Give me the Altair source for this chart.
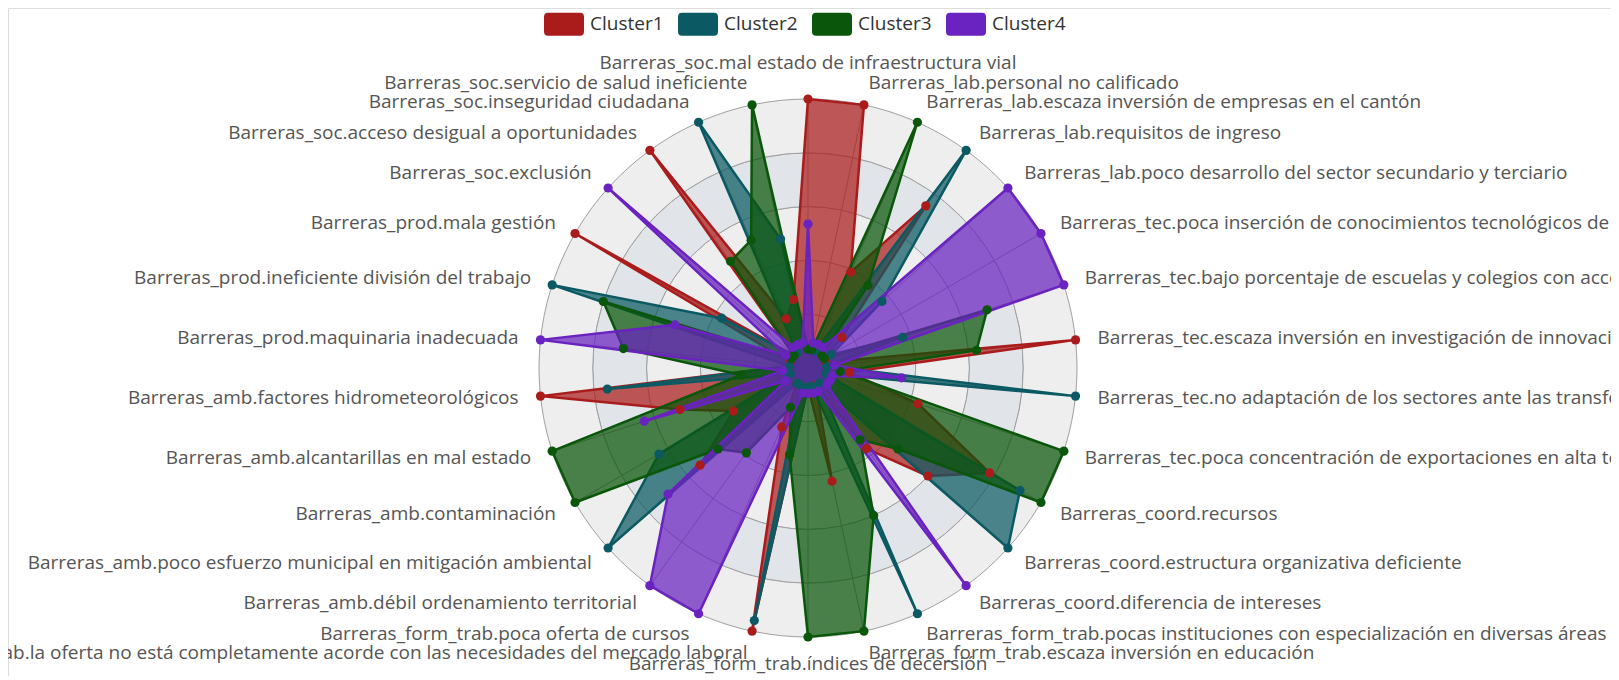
import altair as alt
import pandas as pd

# ---------------- data ----------------
axis_names = [
    "Barreras_soc.mal estado de infraestructura vial",
    "Barreras_lab.personal no calificado",
    "Barreras_lab.escaza inversión de empresas en el cantón",
    "Barreras_lab.requisitos de ingreso",
    "Barreras_lab.poco desarrollo del sector secundario y terciario",
    "Barreras_tec.poca inserción de conocimientos tecnológicos de las empresas",
    "Barreras_tec.bajo porcentaje de escuelas y colegios con acceso a internet",
    "Barreras_tec.escaza inversión en investigación de innovación",
    "Barreras_tec.no adaptación de los sectores ante las transformaciones tecnológicas",
    "Barreras_tec.poca concentración de exportaciones en alta tecnología",
    "Barreras_coord.recursos",
    "Barreras_coord.estructura organizativa deficiente",
    "Barreras_coord.diferencia de intereses",
    "Barreras_form_trab.pocas instituciones con especialización en diversas áreas",
    "Barreras_form_trab.escaza inversión en educación",
    "Barreras_form_trab.índices de decersión",
    "Barreras_form_trab.la oferta no está completamente acorde con las necesidades del mercado laboral",
    "Barreras_form_trab.poca oferta de cursos",
    "Barreras_amb.débil ordenamiento territorial",
    "Barreras_amb.poco esfuerzo municipal en mitigación ambiental",
    "Barreras_amb.contaminación",
    "Barreras_amb.alcantarillas en mal estado",
    "Barreras_amb.factores hidrometeorológicos",
    "Barreras_prod.maquinaria inadecuada",
    "Barreras_prod.ineficiente división del trabajo",
    "Barreras_prod.mala gestión",
    "Barreras_soc.exclusión",
    "Barreras_soc.acceso desigual a oportunidades",
    "Barreras_soc.inseguridad ciudadana",
    "Barreras_soc.servicio de salud ineficiente",
]

cluster_names = ["Cluster1", "Cluster2", "Cluster3", "Cluster4"]

cluster1 = [1.0, 1.0, 0.39, 0.745, 0.17, 0.07, 0.07, 1.0, 0.155, 0.43,
            0.78, 0.6, 0.37, 0.07, 0.43, 0.07, 1.0, 0.24, 0.07, 0.54,
            0.32, 0.5, 1.0, 0.07, 0.07, 1.0, 0.07, 1.0, 0.2, 0.26]
cluster2 = [0.07, 0.07, 0.07, 1.0, 0.37, 0.1, 0.37, 0.07, 1.0, 0.07,
            0.91, 1.0, 0.07, 1.0, 0.07, 0.07, 0.96, 0.07, 0.07, 1.0,
            0.64, 0.07, 0.75, 0.07, 1.0, 0.37, 0.07, 0.07, 1.0, 0.49]
cluster3 = [0.07, 0.07, 1.0, 0.38, 0.07, 0.07, 0.70, 0.63, 0.12, 1.0,
            1.0, 0.45, 0.33, 0.6, 1.0, 1.0, 0.33, 0.16, 0.39, 0.45,
            1.0, 1.0, 0.25, 0.69, 0.8, 0.07, 0.07, 0.49, 0.52, 1.0]
cluster4 = [0.535, 0.095, 0.095, 0.095, 1.0, 1.0, 1.0, 0.1, 0.35, 0.095,
            0.095, 0.095, 1.0, 0.095, 0.095, 0.095, 0.095, 1.0, 1.0, 0.7,
            0.095, 0.64, 0.095, 1.0, 0.52, 0.095, 1.0, 0.095, 0.095, 0.095]

ring_levels = [0.2, 0.4, 0.6, 0.8, 1.0]

# ---------------- style ----------------
cluster_colors = ["#aa1c1c", "#0b5a63", "#0a560a", "#6a22c0"]
band_colors = ["#eeeeee", "#e1e4e9"]
FONT = "Open Sans"
W, H = 1603, 668
CX, CY, R = 800, 360, 269
LABEL_GAP = 22
N = len(axis_names)

rows = []
for cname, vals in zip(cluster_names, [cluster1, cluster2, cluster3, cluster4]):
    for k, v in enumerate(vals):
        rows.append({"k": k, "axis": axis_names[k], "cluster": cname, "value": v})
df = pd.DataFrame(rows)
axes_df = pd.DataFrame({"k": list(range(N)), "axis": axis_names})
bands_df = pd.DataFrame({
    "band": list(range(len(ring_levels))),
    "r_out": ring_levels,
    "r_in": [0.0] + ring_levels[:-1],
})

xs = alt.Scale(domain=[-CX / R, (W - CX) / R], range=[0, W], nice=False, zero=False)
ys = alt.Scale(domain=[-(H - CY) / R, CY / R], range=[H, 0], nice=False, zero=False)
rs = alt.Scale(type="linear", domain=[0, 1], range=[0, R], nice=False, zero=True)

theta_expr = f"datum.k * 2 * PI / {N}"

# split areas + circular split lines
bands = alt.Chart(bands_df).transform_calculate(c0="0").mark_arc(
    theta=0, theta2=6.2832, stroke="#a0a0a0", strokeWidth=1
).encode(
    x=alt.X("c0:Q", scale=xs, axis=None),
    y=alt.Y("c0:Q", scale=ys, axis=None),
    radius=alt.Radius("r_out:Q", scale=rs),
    radius2=alt.Radius2("r_in:Q"),
    fill=alt.Fill("band:O", scale=alt.Scale(domain=list(range(len(ring_levels))),
                                             range=[band_colors[i % 2] for i in range(len(ring_levels))]),
                  legend=None),
)

# spokes
spokes = alt.Chart(axes_df).transform_calculate(
    th=theta_expr, sx="sin(datum.th)", sy="cos(datum.th)", c0="0"
).mark_rule(color="#9a9a9a", strokeWidth=1).encode(
    x=alt.X("c0:Q", scale=xs, axis=None),
    y=alt.Y("c0:Q", scale=ys, axis=None),
    x2="sx:Q",
    y2="sy:Q",
)

def polygon(i):
    return alt.Chart(df).transform_filter(
        alt.datum.cluster == cluster_names[i]
    ).transform_calculate(
        th=theta_expr, px="datum.value * sin(datum.th)", py="datum.value * cos(datum.th)"
    ).mark_line(
        interpolate="linear-closed", strokeWidth=2.5, fillOpacity=0.72, strokeJoin="round"
    ).encode(
        x=alt.X("px:Q", scale=xs, axis=None),
        y=alt.Y("py:Q", scale=ys, axis=None),
        order=alt.Order("k:Q"),
        fill=alt.value(cluster_colors[i]),
        stroke=alt.value(cluster_colors[i]),
    )

legend_path = ("M-0.8,-0.575L0.8,-0.575Q1,-0.575,1,-0.375L1,0.375Q1,0.575,0.8,0.575"
               "L-0.8,0.575Q-1,0.575,-1,0.375L-1,-0.375Q-1,-0.575,-0.8,-0.575Z")

points = alt.Chart(df).transform_calculate(
    th=theta_expr, px="datum.value * sin(datum.th)", py="datum.value * cos(datum.th)"
).mark_point(filled=True, size=85, opacity=1).encode(
    x=alt.X("px:Q", scale=xs, axis=None),
    y=alt.Y("py:Q", scale=ys, axis=None),
    color=alt.Color(
        "cluster:N",
        scale=alt.Scale(domain=cluster_names, range=cluster_colors),
        legend=alt.Legend(
            title=None, orient="none", legendX=536, legendY=-4, direction="horizontal",
            columns=4, symbolType=legend_path, symbolSize=1600, symbolStrokeWidth=0,
            symbolOpacity=1, labelFont=FONT, labelFontSize=19, labelColor="#333333",
            labelOffset=6, columnPadding=14, padding=0,
        ),
    ),
)

LR = (R + LABEL_GAP) / R

def labels(flt, align, baseline, dy=0):
    return alt.Chart(axes_df).transform_filter(flt).transform_calculate(
        th=theta_expr, lx=f"{LR} * sin(datum.th)", ly=f"{LR} * cos(datum.th)"
    ).mark_text(
        align=align, baseline=baseline, font=FONT, fontSize=19, color="#555555", dy=dy
    ).encode(
        x=alt.X("lx:Q", scale=xs, axis=None),
        y=alt.Y("ly:Q", scale=ys, axis=None),
        text="axis:N",
    )

half = N // 2
lab_top = labels(alt.datum.k == 0, "center", "bottom", dy=-4)
lab_bottom = labels(alt.datum.k == half, "center", "top", dy=-4)
lab_right = labels((alt.datum.k > 0) & (alt.datum.k < half), "left", "middle")
lab_left = labels(alt.datum.k > half, "right", "middle")

chart = alt.layer(
    bands, spokes,
    polygon(0), polygon(1), polygon(2), polygon(3),
    points,
    lab_top, lab_bottom, lab_right, lab_left,
).properties(
    width=W, height=H, autosize=alt.AutoSizeParams(type="none"), padding=0
).configure_view(stroke="transparent", strokeWidth=0).configure(font=FONT)

chart.save("out.html", embed_options={"renderer": "svg", "actions": False})
